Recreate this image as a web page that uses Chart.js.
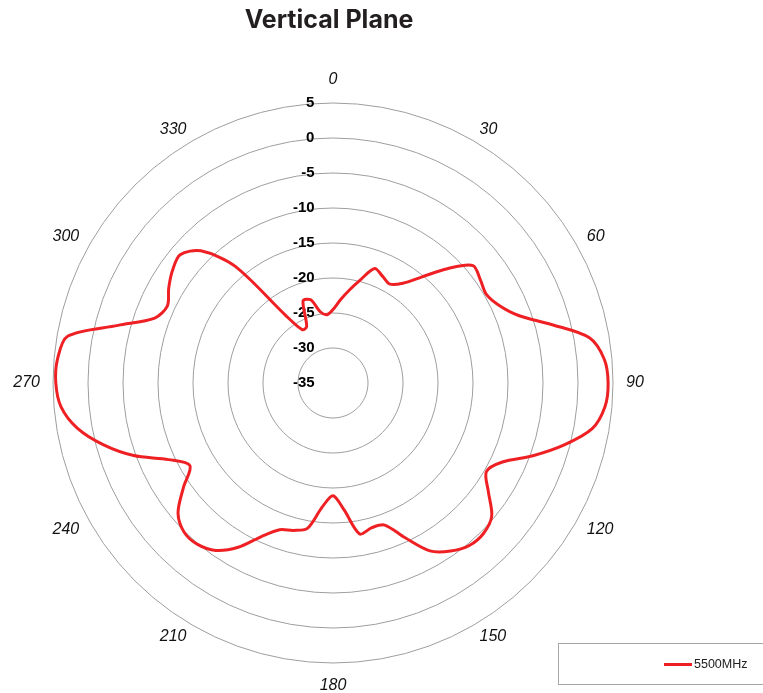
<!DOCTYPE html>
<html>
<head>
<meta charset="utf-8">
<script src="https://cdn.jsdelivr.net/npm/chart.js@4.4.1/dist/chart.umd.min.js"></script>
<style>
html, body { margin: 0; padding: 0; background: #ffffff; }
canvas { display: block; }
</style>
</head>
<body>
<canvas id="c" width="763" height="693"></canvas>
<script>
// ---- data ----
const angles = [0,5,10,15,20,25,30,35,40,45,50,55,60,65,70,75,80,85,
                90,95,100,105,110,115,120,125,130,135,140,145,150,155,160,165,170,175,
                180,185,190,195,200,205,210,215,220,225,230,235,240,245,250,255,260,265,
                270,275,280,285,290,295,300,305,310,315,320,325,330,335,340,345,350,355];

const gain5500 = [-24.5,-23.1,-21.5,-19.7,-17.6,-18.2,-18.7,-17.6,-15.2,-11.9,-8.9,-9.3,-9.7,-8.8,-6.8,-2.7,2.2,3.9,
                  4.3,4.0,2.6,-0.8,-4.6,-8.3,-9.7,-7.9,-5.4,-4.6,-4.7,-5.7,-7.3,-10.6,-13.4,-13.6,-13.1,-16.8,
                  -18.9,-17.2,-13.9,-13.2,-12.7,-10.8,-7.9,-5.8,-4.9,-4.9,-6.1,-8.9,-11.4,-9.1,-4.7,-1.0,2.1,4.0,
                  4.6,4.5,3.5,-3.2,-7.9,-8.9,-7.9,-7.0,-6.5,-8.3,-13.2,-23.2,-26.2,-26.1,-22.5,-22.7,-24.7,-25.2];

const seriesLabel = '5500MHz';
const radialMin = -35;
const radialMax = 5;
const radialStep = 5;
const labelledAngles = [0,30,60,90,120,150,180,210,240,270,300,330];

// ---- helpers for text placement ----
const measureCtx = document.createElement('canvas').getContext('2d');
const tickFontSpec = 'bold 15px "Liberation Sans", Arial, sans-serif';

function tickLabel(v) {
  measureCtx.font = tickFontSpec;
  const s = String(v);
  const w = measureCtx.measureText(s).width;
  const sp = measureCtx.measureText('\u00A0').width;
  const n = Math.max(0, Math.round((w + 38) / sp));
  return s + '\u00A0'.repeat(n);
}

const legendBox = {
  id: 'legendBox',
  afterDraw(chart) {
    const ctx = chart.ctx;
    const ds = chart.data.datasets[0];
    ctx.save();
    ctx.strokeStyle = '#a6a6a6';
    ctx.lineWidth = 1;
    ctx.strokeRect(558.5, 643.5, 220, 41);
    ctx.strokeStyle = ds.borderColor;
    ctx.lineWidth = 3;
    ctx.beginPath();
    ctx.moveTo(664, 664.5);
    ctx.lineTo(692, 664.5);
    ctx.stroke();
    ctx.fillStyle = '#222222';
    ctx.font = '12.5px "Liberation Sans", Arial, sans-serif';
    ctx.textAlign = 'left';
    ctx.textBaseline = 'middle';
    ctx.fillText(ds.label, 694, 665);
    ctx.restore();
  }
};

new Chart(document.getElementById('c'), {
  type: 'radar',
  data: {
    labels: angles,
    datasets: [{
      label: seriesLabel,
      data: gain5500,
      borderColor: '#ee2024',
      backgroundColor: 'rgba(0,0,0,0)',
      borderWidth: 3,
      pointRadius: 0,
      pointHoverRadius: 0,
      fill: false,
      tension: 0.3
    }]
  },
  options: {
    responsive: false,
    devicePixelRatio: 1,
    animation: false,
    layout: { padding: { left: 0, right: 105, top: 0, bottom: 7 } },
    plugins: {
      legend: { display: false },
      tooltip: { enabled: false },
      title: {
        display: true,
        text: 'Vertical Plane',
        color: '#231f20',
        font: { family: 'Inter', weight: 'bold', size: 25, lineHeight: 1.2 },
        padding: { top: 5, bottom: 45 }
      }
    },
    scales: {
      r: {
        min: radialMin,
        max: radialMax,
        startAngle: 0,
        angleLines: { display: false },
        grid: { circular: false, color: '#9e9e9e', lineWidth: 1 },
        ticks: {
          stepSize: radialStep,
          showLabelBackdrop: false,
          backdropPadding: { top: -7.5, bottom: -7.5, left: 0, right: 0 },
          color: '#000000',
          font: { family: '"Liberation Sans", Arial, sans-serif', weight: 'bold', size: 15 },
          callback: (v) => tickLabel(v)
        },
        pointLabels: {
          display: true,
          color: '#111111',
          font: { family: '"Liberation Sans", Arial, sans-serif', style: 'italic', size: 16, lineHeight: 0 },
          padding: (ctx) => {
            const a = angles[ctx.index];
            return (a === 0 || a === 180) ? 23 : 13;
          },
          callback: (label) => labelledAngles.includes(Number(label)) ? String(label) : ''
        }
      }
    }
  },
  plugins: [legendBox]
});
</script>
</body>
</html>
